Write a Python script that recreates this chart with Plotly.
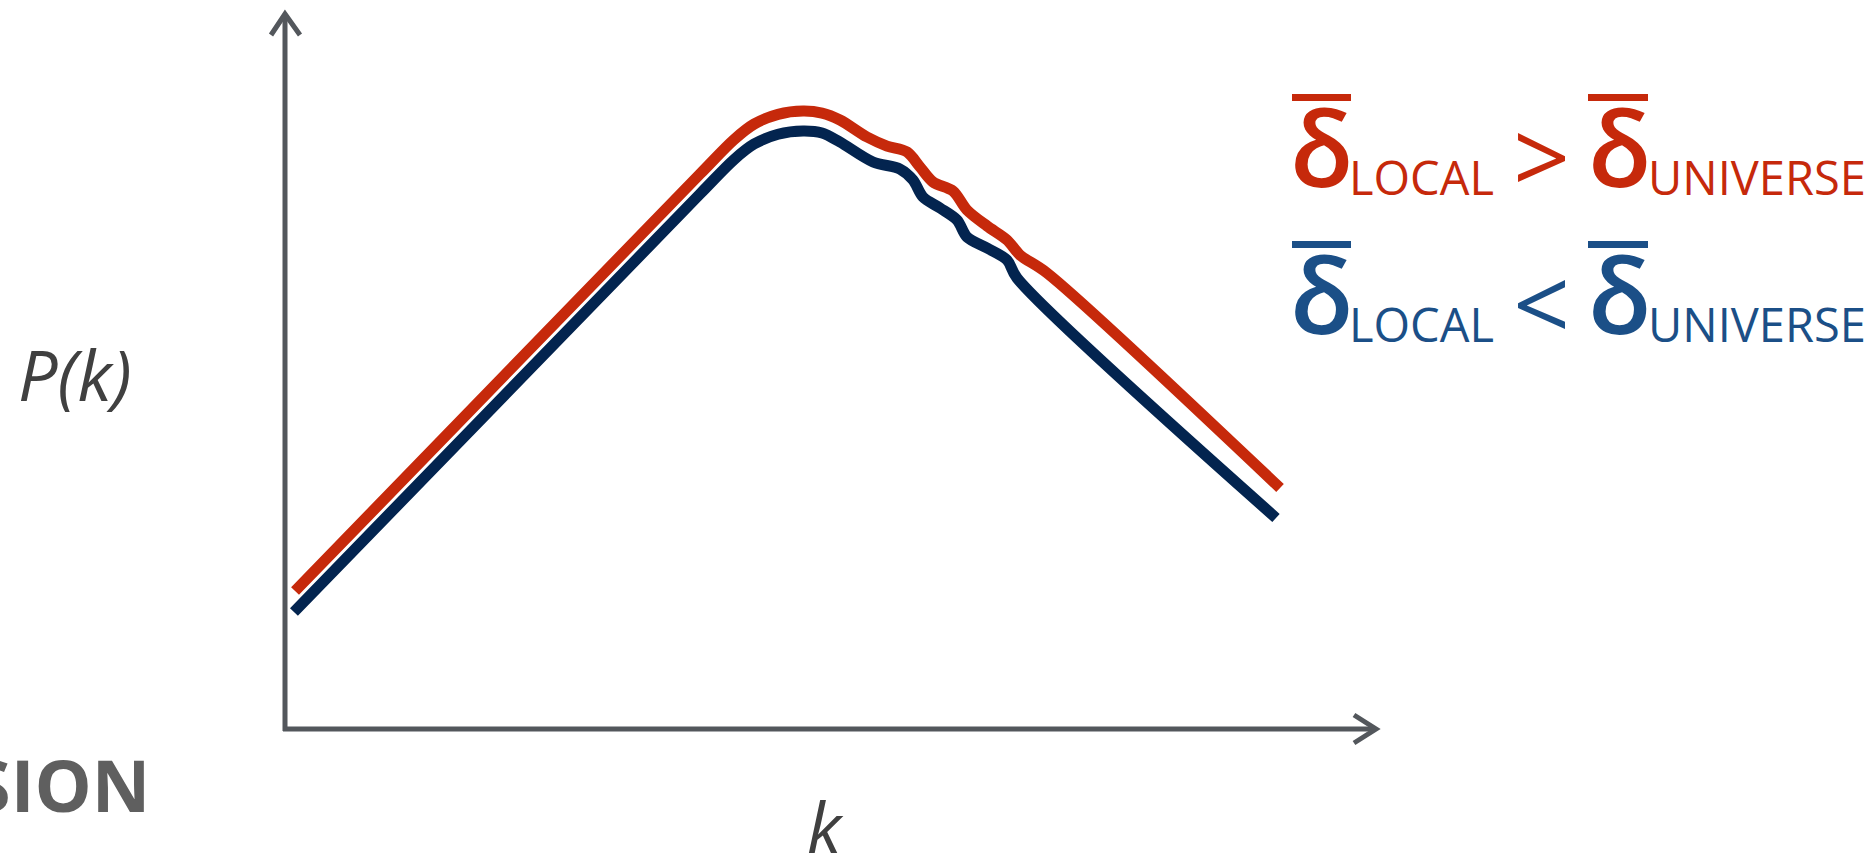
import plotly.graph_objects as go

# Figure and plot-area geometry (pixels)
W, H = 1875, 861
PLOT_L, PLOT_R, PLOT_T, PLOT_B = 285, 1377, 13, 729

# Schematic power spectrum, k and P(k) in arbitrary units (0-10 on each axis)
k_high = [0.092, 3.800, 4.112, 4.295, 4.515, 4.744, 4.918, 5.082, 5.330, 5.513,
          5.696, 5.815, 5.934, 6.117, 6.245, 6.429, 6.612, 6.731, 6.978, 9.112]
p_high = [1.927, 7.751, 8.232, 8.448, 8.585, 8.631, 8.603, 8.506, 8.268, 8.142,
          8.059, 7.849, 7.640, 7.514, 7.249, 7.025, 6.830, 6.620, 6.369, 3.366]

k_low = [0.082, 3.800, 4.112, 4.295, 4.515, 4.744, 4.918, 5.082, 5.385, 5.632,
         5.751, 5.842, 5.998, 6.154, 6.245, 6.429, 6.612, 6.703, 9.075]
p_low = [1.634, 7.472, 7.953, 8.169, 8.306, 8.352, 8.324, 8.198, 7.919, 7.821,
         7.668, 7.430, 7.277, 7.109, 6.872, 6.718, 6.550, 6.299, 2.947]

RED = "#C6290B"
NAVY = "#03244F"
BLUE = "#1B4F87"
AXIS = "#53575C"
LABEL = "#404040"

FONT = "Open Sans"


def xp(px):
    return (px - PLOT_L) / (PLOT_R - PLOT_L)


def yp(py):
    return (PLOT_B - py) / (PLOT_B - PLOT_T)


fig = go.Figure()
fig.add_trace(go.Scatter(x=k_high, y=p_high, mode="lines",
                         line=dict(color=RED, width=11, shape="spline", smoothing=0.9),
                         hoverinfo="skip"))
fig.add_trace(go.Scatter(x=k_low, y=p_low, mode="lines",
                         line=dict(color=NAVY, width=11, shape="spline", smoothing=0.9),
                         hoverinfo="skip"))

shapes = [
    # axes
    dict(type="line", xref="paper", yref="paper", x0=0, x1=0, y0=yp(731), y1=yp(14),
         line=dict(color=AXIS, width=5)),
    dict(type="line", xref="paper", yref="paper", x0=xp(283), x1=xp(1375), y0=0, y1=0,
         line=dict(color=AXIS, width=5)),
    # arrow heads
    dict(type="path", xref="paper", yref="paper",
         path=f"M {xp(271)},{yp(35)} L {xp(285)},{yp(14)} L {xp(300)},{yp(35)}",
         line=dict(color=AXIS, width=5)),
    dict(type="path", xref="paper", yref="paper",
         path=f"M {xp(1354)},{yp(715)} L {xp(1376)},{yp(729)} L {xp(1354)},{yp(743)}",
         line=dict(color=AXIS, width=5)),
]

annotations = []


def text(s, x, y, size, color, xanchor="center", yanchor="middle", weight="normal"):
    annotations.append(dict(text=s, x=xp(x), y=yp(y), xref="paper", yref="paper",
                            xanchor=xanchor, yanchor=yanchor, showarrow=False,
                            font=dict(family=FONT, size=size, color=color, weight=weight)))


# axis labels
text("<i>P(k)</i>", 75, 374, 70, LABEL)
text("<i>k</i>", 825, 826, 70, LABEL)
text("<b>SION</b>", 152, 784, 72, "#5F5F5F", xanchor="right")

# density relation labels
rows = [(0, RED, ">"), (147, BLUE, "<")]
for dy, col, op in rows:
    text("δ", 1321, 146 + dy, 104, col, weight=600)
    text("LOCAL", 1347, 177 + dy, 47, col, xanchor="left")
    text(op, 1541, 155 + dy, 100, col)
    text("δ", 1619, 146 + dy, 104, col, weight=600)
    text("UNIVERSE", 1646, 177 + dy, 47, col, xanchor="left")
    for x0, x1 in [(1292, 1351), (1588, 1648)]:
        shapes.append(dict(type="line", xref="paper", yref="paper",
                           x0=xp(x0), x1=xp(x1), y0=yp(97.5 + dy), y1=yp(97.5 + dy),
                           line=dict(color=col, width=7)))

fig.update_layout(
    width=W, height=H, autosize=False,
    margin=dict(l=PLOT_L, r=W - PLOT_R, t=PLOT_T, b=H - PLOT_B, pad=0),
    paper_bgcolor="white", plot_bgcolor="white",
    showlegend=False,
    xaxis=dict(range=[0, 10], visible=False, fixedrange=True),
    yaxis=dict(range=[0, 10], visible=False, fixedrange=True),
    shapes=shapes,
    annotations=annotations,
)

fig.write_html("out.html", config={"displayModeBar": False})
